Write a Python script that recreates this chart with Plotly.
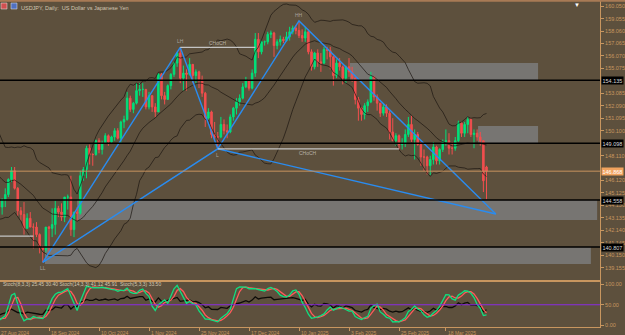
import plotly.graph_objects as go
import pandas as pd
import numpy as np

# ---------------- data ----------------
all_days = pd.bdate_range("2024-07-29", "2025-04-04")
dates = [d.strftime("%Y-%m-%d") for d in all_days if d.strftime("%m-%d") not in ("12-25", "01-01")]

open_ = [153.7,153.9,152.7,
 150.0,149.4,146.5,144.2,144.3,146.7,147.2,146.6,147.2,146.8,147.3,149.3,147.6,146.6,145.3,145.2,146.3,144.4,144.5,144.0,144.6,145.0,
 146.2,146.9,145.5,143.7,143.4,142.3,143.1,142.4,142.4,141.8,140.8,140.6,142.4,142.3,142.6,143.9,143.6,143.2,144.8,144.8,142.2,
 143.6,143.5,146.5,147.0,148.7,148.2,148.2,149.3,148.6,149.1,149.7,149.2,149.6,150.1,149.5,150.8,151.0,152.7,151.8,152.3,153.3,153.4,153.4,
 152.0,152.9,152.0,151.6,154.6,152.9,152.6,153.7,154.6,155.5,156.3,154.3,154.7,154.6,155.4,154.5,154.8,154.2,153.1,151.1,151.6,
 149.8,149.6,149.6,150.6,150.1,150.0,151.2,151.9,152.4,152.7,153.6,154.1,153.5,154.7,157.4,156.4,157.2,157.2,157.8,157.9,156.9,
 157.2,157.4,157.3,157.6,158.0,158.3,158.1,157.7,157.5,158.0,156.4,155.2,156.3,155.6,155.5,156.6,156.5,156.0,154.5,155.5,155.2,154.3,
 155.2,154.8,154.3,152.6,151.9,151.4,152.1,152.4,154.4,152.8,152.3,151.5,152.0,151.5,150.0,149.3,149.7,149.0,149.1,149.8,
 150.6,149.4,149.8,149.0,148.0,148.0,147.3,147.8,148.8,147.7,148.6,149.2,149.3,148.7,148.7,149.3,150.7,149.9,150.6,151.0,149.8,
 149.9,149.6,149.3,147.2]
high = [154.2,155.2,153.0,
 150.9,149.8,146.6,145.3,147.9,147.5,147.8,147.8,148.2,147.6,149.4,149.4,148.2,147.1,146.6,146.5,146.5,144.9,144.9,144.7,145.5,146.3,
 147.2,147.2,145.6,144.0,144.4,143.5,143.6,142.7,142.8,141.9,140.9,142.4,142.5,143.9,144.5,144.1,144.3,144.8,145.0,146.5,143.6,
 144.0,146.9,147.2,148.9,149.0,148.3,149.4,149.5,149.3,149.9,149.8,149.7,150.3,150.3,150.9,151.3,153.2,152.9,152.4,153.9,153.9,153.9,153.4,
 153.2,152.9,152.3,154.7,154.7,153.2,153.8,154.7,155.6,156.4,156.75,155.3,155.0,155.9,155.4,155.0,154.9,154.5,153.2,151.9,151.7,
 150.8,150.0,151.2,151.0,150.6,151.4,152.0,152.7,153.0,153.9,154.4,154.2,155.0,157.9,157.9,157.3,157.3,158.0,158.1,158.0,157.4,
 157.7,157.6,158.0,158.4,158.5,158.5,158.87,158.2,158.4,158.2,156.6,156.4,156.6,156.3,156.8,156.8,156.8,156.1,155.8,155.9,155.3,155.3,
 155.9,155.2,154.5,152.8,152.0,152.3,152.6,154.8,154.4,153.0,152.3,152.3,152.2,151.7,151.1,149.9,149.8,149.5,150.2,151.2,
 151.3,150.2,150.0,149.2,148.6,148.1,148.1,149.2,148.9,148.7,149.4,150.2,149.9,149.2,149.6,150.9,150.8,150.8,151.2,151.1,150.2,
 150.2,150.0,149.3,147.3]
low = [153.1,152.6,149.6,
 148.5,146.4,141.7,143.6,144.3,145.8,146.3,146.4,146.6,146.3,146.7,147.3,145.2,145.2,144.9,145.0,143.9,143.5,143.6,143.4,144.0,144.8,
 146.0,145.4,143.3,142.9,141.8,142.3,142.4,140.7,141.6,140.3,139.58,140.4,140.4,141.6,141.8,143.2,142.9,142.8,143.8,141.7,141.6,
 142.9,143.4,146.1,146.3,147.4,147.3,148.1,148.3,148.2,149.1,148.9,149.1,149.3,149.4,149.1,150.3,150.9,151.6,151.5,152.2,152.9,152.8,151.8,
 151.8,151.6,151.2,151.6,152.6,152.2,152.6,153.4,154.4,155.2,153.9,153.3,153.3,154.5,153.9,153.9,153.5,152.8,150.4,151.0,149.5,
 149.4,148.65,149.5,149.8,149.5,149.9,150.9,151.4,152.1,152.6,153.5,153.3,153.4,154.4,155.9,156.2,156.9,157.0,157.5,156.0,156.6,
 156.9,157.1,157.2,157.3,157.8,157.8,157.5,157.2,157.2,156.2,154.9,155.0,155.2,154.8,155.4,155.8,155.0,153.7,154.3,154.9,153.8,153.9,
 154.4,154.0,152.2,150.9,150.9,151.0,151.6,152.3,152.5,151.7,151.2,151.3,151.2,149.4,149.3,148.9,148.6,148.6,148.8,149.6,
 149.2,147.8,148.9,147.3,146.9,146.6,146.54,147.4,147.4,147.4,148.4,148.9,148.2,148.2,148.5,149.2,149.6,149.6,149.9,149.6,148.7,
 149.3,148.9,145.2,144.6]
close = [153.9,152.7,150.0,
 149.4,146.5,144.2,144.3,146.7,147.2,146.6,147.2,146.8,147.3,149.3,147.6,146.6,145.3,145.2,146.3,144.4,144.5,144.0,144.6,145.0,146.2,
 146.9,145.5,143.7,143.4,142.3,143.1,142.4,142.4,141.8,140.8,140.6,142.4,142.3,142.6,143.9,143.6,143.2,144.8,144.8,142.2,143.6,
 143.5,146.5,147.0,148.7,148.2,148.2,149.3,148.6,149.1,149.7,149.2,149.6,150.1,149.5,150.8,151.0,152.7,151.8,152.3,153.3,153.4,153.4,152.0,
 152.9,152.0,151.6,154.6,152.9,152.6,153.7,154.6,155.5,156.3,154.3,154.7,154.6,155.4,154.5,154.8,154.2,153.1,151.1,151.6,149.8,
 149.6,149.6,150.6,150.1,150.0,151.2,151.9,152.4,152.7,153.6,154.1,153.5,154.7,157.4,156.4,157.2,157.2,157.8,157.9,156.9,157.2,
 157.4,157.3,157.6,158.0,158.3,158.1,157.7,157.5,158.0,156.4,155.2,156.3,155.6,155.5,156.6,156.5,156.0,154.5,155.5,155.2,154.3,155.2,
 154.8,154.3,152.6,151.9,151.4,152.1,152.4,154.4,152.8,152.3,151.5,152.0,151.5,150.0,149.3,149.7,149.0,149.1,149.8,150.6,
 149.4,149.8,149.0,148.0,148.0,147.3,147.8,148.8,147.7,148.6,149.2,149.3,148.7,148.7,149.3,150.7,149.9,150.6,151.0,149.8,149.9,
 149.6,149.3,146.1,146.87]

x_labels = [("2024-08-27", "27 Aug 2024"), ("2024-09-18", "18 Sep 2024"), ("2024-10-10", "10 Oct 2024"),
            ("2024-11-01", "1 Nov 2024"), ("2024-11-25", "25 Nov 2024"), ("2024-12-17", "17 Dec 2024"),
            ("2025-01-10", "10 Jan 2025"), ("2025-02-03", "3 Feb 2025"), ("2025-02-25", "25 Feb 2025"),
            ("2025-03-18", "18 Mar 2025")]
# price scale labels (those hidden under the level boxes in the reference are left out)
price_ticks = [139.155, 140.150, 141.145, 142.140, 143.135, 144.130, 145.125, 146.120, 148.110,
               150.100, 151.095, 152.090, 153.085, 155.075, 156.070, 157.065, 158.060,
               159.055, 160.050]
levels = [154.135, 149.098, 144.558, 140.807]
bid_price = 146.868
# supply / demand zones: (start bar, end bar, top price, bottom price)
zone_x0 = [133.3, 174.3, 46.0, 35.7]
zone_x1 = [193.5, 193.5, 212.4, 210.4]
zone_top = [155.51, 150.48, 144.558, 140.807]
zone_bot = [154.135, 149.098, 142.97, 139.45]
# pattern pivots (X, A, B, C, D)
piv_dates = ["2024-09-16", "2024-11-15", "2024-12-03", "2025-01-10"]
piv_prices = [139.58, 156.75, 148.65, 158.87]
d_offset_bars = 3
d_price = 143.45
piv_names = ["LL", "LH", "L", "HH"]
choch_start = ["2024-11-15", "2024-12-03"]
choch_end = ["2024-12-19", "2025-02-25"]
choch_price = [156.75, 148.65]
old_line_end = "2024-09-11"
old_line_price = 141.68
stoch_title = "Stoch(8,3,3) 25.45 30.40 Stoch(14,3,3) 41.12 45.91  Stoch(5,3,3) 33.50"

# ---------------- indicators ----------------
df = pd.DataFrame({"o": open_, "h": high, "l": low, "c": close})
xi = np.arange(len(dates))
mid = df.c.rolling(20).mean()
sd = df.c.rolling(20).std(ddof=0)
up, dn = mid + 2 * sd, mid - 2 * sd
ll = df.l.rolling(8).min(); hh = df.h.rolling(8).max()
stk = (df.c - ll).rolling(3).sum() / (hh - ll).rolling(3).sum() * 100
std_ = stk.rolling(3).mean()
delta = df.c.diff()
gain = delta.clip(lower=0).ewm(alpha=1/14, adjust=False).mean()
loss = (-delta.clip(upper=0)).ewm(alpha=1/14, adjust=False).mean()
rsi = 100 - 100 / (1 + gain / loss)

# ---------------- styling ----------------
BG = "#5d503d"
TAN = "#c8965f"
GREEN = "#00e07a"
RED = "#f24e4e"
FONT = "Liberation Sans, Arial, sans-serif"

i0 = dates.index("2024-08-27")
xr = [i0 + 0.32, i0 + 192.32]
def xp(i):
    return (i - xr[0]) / (xr[1] - xr[0])

fig = go.Figure()
fig.add_trace(go.Candlestick(x=xi, open=df.o, high=df.h, low=df.l, close=df.c,
    increasing=dict(line=dict(color=GREEN, width=1), fillcolor=GREEN),
    decreasing=dict(line=dict(color=RED, width=1), fillcolor=RED),
    whiskerwidth=0, showlegend=False, hoverinfo="skip", xaxis="x", yaxis="y"))
for band in (up, mid, dn):
    fig.add_trace(go.Scatter(x=xi, y=band, mode="lines", line=dict(color="rgba(25,20,15,0.85)", width=0.8),
                             showlegend=False, hoverinfo="skip", xaxis="x", yaxis="y"))

# pattern
px_ = [dates.index(d) for d in piv_dates]
dx = len(dates) - 1 + d_offset_bars
pat_x = [px_[0], px_[1], px_[2], px_[3], dx, None, px_[0], px_[2], dx]
pat_y = [piv_prices[0], piv_prices[1], piv_prices[2], piv_prices[3], d_price, None, piv_prices[0], piv_prices[2], d_price]
fig.add_trace(go.Scatter(x=pat_x, y=pat_y, mode="lines", line=dict(color="#2a8cf0", width=1.4),
                         showlegend=False, hoverinfo="skip", xaxis="x", yaxis="y"))

# stochastic panel
fig.add_trace(go.Scatter(x=xi, y=rsi, mode="lines", line=dict(color="#0d0b08", width=1.3),
                         showlegend=False, hoverinfo="skip", xaxis="x2", yaxis="y2"))
fig.add_trace(go.Scatter(x=xi, y=std_, mode="lines", line=dict(color="#ff5a5a", width=1.3),
                         showlegend=False, hoverinfo="skip", xaxis="x2", yaxis="y2"))
fig.add_trace(go.Scatter(x=xi, y=stk, mode="lines", line=dict(color="#10e080", width=1.3),
                         showlegend=False, hoverinfo="skip", xaxis="x2", yaxis="y2"))

shapes = []
for a, b, t, bt in zip(zone_x0, zone_x1, zone_top, zone_bot):
    shapes.append(dict(type="rect", xref="x", yref="y", x0=a, x1=b, y0=bt, y1=t,
                       fillcolor="#777572", line=dict(width=0), layer="below"))
for lv in levels:
    shapes.append(dict(type="line", xref="x domain", yref="y", x0=0, x1=1, y0=lv, y1=lv,
                       line=dict(color="#000000", width=1.5)))
shapes.append(dict(type="line", xref="x domain", yref="y", x0=0, x1=1, y0=bid_price, y1=bid_price,
                   line=dict(color="#c8935f", width=1)))
for s, e, p in zip(choch_start, choch_end, choch_price):
    shapes.append(dict(type="line", xref="x", yref="y", x0=dates.index(s), x1=dates.index(e), y0=p, y1=p,
                       line=dict(color="#c4c4c4", width=1.2)))
shapes.append(dict(type="line", xref="x", yref="y", x0=xr[0] - 5, x1=dates.index(old_line_end), y0=old_line_price,
                   y1=old_line_price, line=dict(color="#c4c4c4", width=1.2)))
shapes.append(dict(type="line", xref="x domain", yref="y2", x0=0, x1=1, y0=50, y1=50,
                   line=dict(color="#8a2be2", width=1)))
# top border
shapes.append(dict(type="line", xref="paper", yref="paper", x0=0, x1=1.05, y0=0.998, y1=0.998,
                   line=dict(color="#a87a55", width=2)))
# icons
shapes.append(dict(type="rect", xref="paper", yref="paper", x0=1/600, x1=7/600, y0=1-9/327, y1=1-3/327,
                   fillcolor="#d05050", line=dict(color="#e8e8e8", width=0.5)))
shapes.append(dict(type="rect", xref="paper", yref="paper", x0=11/600, x1=17/600, y0=1-9/327, y1=1-3/327,
                   fillcolor="#5070c0", line=dict(color="#e8e8e8", width=0.5)))

ann = []
ann.append(dict(text="USDJPY, Daily:  US Dollar vs Japanese Yen", xref="paper", yref="paper", x=19/600, y=1 - 3/327,
                xanchor="left", yanchor="top", showarrow=False, font=dict(family=FONT, size=5.5, color="#d2c6b2")))
ann.append(dict(text="▼", xref="paper", yref="paper", x=577/600, y=1, xanchor="center", yanchor="top",
                showarrow=False, font=dict(family=FONT, size=6, color="#ffffff")))
for (d, lab) in x_labels:
    ann.append(dict(text=lab, xref="paper", yref="paper", x=xp(dates.index(d)), y=0, yshift=-1,
                    xanchor="left", yanchor="top", showarrow=False, font=dict(family=FONT, size=5, color=TAN)))
for lv in levels:
    ann.append(dict(text="%.3f" % lv, xref="paper", yref="y", x=1.0, y=lv, xanchor="left", yanchor="middle",
                    showarrow=False, bgcolor="#000000", borderpad=0.5, xshift=1,
                    font=dict(family=FONT, size=5.5, color="#d8d8d8")))
ann.append(dict(text="%.3f" % bid_price, xref="paper", yref="y", x=1.0, y=bid_price, xanchor="left", yanchor="middle",
                showarrow=False, bgcolor="#f2a35e", borderpad=0.5, xshift=1,
                font=dict(family=FONT, size=5.5, color="#ffffff")))
shift = {"LL": -6, "LH": 6, "L": -6, "HH": 6}
for n, d, p in zip(piv_names, piv_dates, piv_prices):
    ann.append(dict(text=n, xref="x", yref="y", x=dates.index(d), y=p, yshift=shift[n], showarrow=False,
                    xanchor="center", yanchor="middle", font=dict(family=FONT, size=5, color="#a9a29a")))
for s, e, p, ys in zip(choch_start, choch_end, choch_price, [4, -4]):
    ann.append(dict(text="CHoCH", xref="x", yref="y", x=(dates.index(s) + dates.index(e)) / 2, y=p, yshift=ys,
                    showarrow=False, xanchor="center", yanchor="middle",
                    font=dict(family=FONT, size=5, color="#b8b0a6")))
ann.append(dict(text=stoch_title, xref="paper", yref="paper", x=1/600, y=(327 - 284) / 327, xanchor="left",
                yanchor="middle", showarrow=False, font=dict(family=FONT, size=5, color="#d2c6b2")))

fig.update_layout(
    width=625, height=335, margin=dict(l=0, r=25, t=0, b=8),
    paper_bgcolor=BG, plot_bgcolor=BG, showlegend=False,
    shapes=shapes, annotations=ann,
    xaxis=dict(domain=[0, 1], anchor="y", range=xr, showgrid=False, zeroline=False, showticklabels=False,
               showline=True, linecolor=TAN, linewidth=2, ticks="", rangeslider=dict(visible=False)),
    yaxis=dict(domain=[(327 - 280) / 327, 1], range=[138.175, 160.54], side="right", anchor="x",
               tickvals=price_ticks, ticktext=["%.3f" % v for v in price_ticks], ticks="outside", ticklen=3,
               tickcolor=TAN, tickfont=dict(family=FONT, size=5.5, color=TAN), showgrid=False, zeroline=False,
               showline=True, linecolor=TAN, linewidth=1),
    xaxis2=dict(domain=[0, 1], anchor="y2", range=xr, showgrid=False, zeroline=False, showticklabels=False,
                tickvals=[dates.index(d) for d, _ in x_labels], ticks="outside", ticklen=3, tickcolor=TAN,
                showline=True, linecolor=TAN, linewidth=1),
    yaxis2=dict(domain=[0, 46 / 327], range=[-4.9, 108.6], side="right", anchor="x2",
                tickvals=[0, 50, 100], ticktext=["0.00", "50.00", "100.00"], ticks="outside", ticklen=3,
                tickcolor=TAN, tickfont=dict(family=FONT, size=5.5, color=TAN), showgrid=False, zeroline=False,
                showline=True, linecolor=TAN, linewidth=1),
)
fig.write_html("out.html")
